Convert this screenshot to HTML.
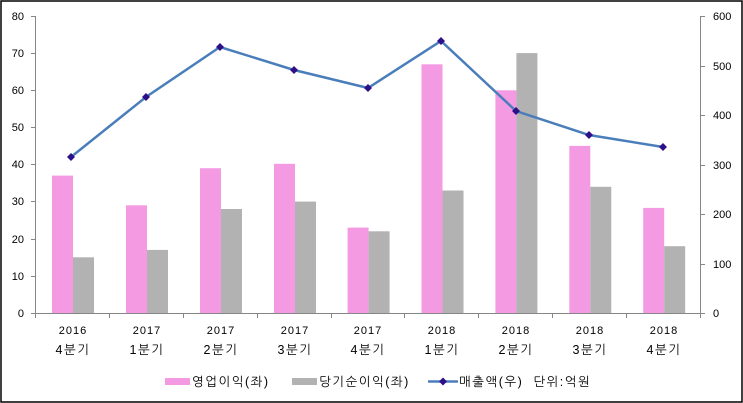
<!DOCTYPE html>
<html><head><meta charset="utf-8"><style>
body{margin:0;background:#fff}
svg{display:block}
text{font-family:"Liberation Sans","NanumGothic","Noto Sans CJK KR",sans-serif;font-size:11px;fill:#000}
.k{font-size:12.5px;letter-spacing:1.5px}
</style></head><body>
<svg width="743" height="403" viewBox="0 0 743 403" xmlns="http://www.w3.org/2000/svg">
<rect x="1" y="1" width="741" height="401" fill="#fff" stroke="#000" stroke-width="1.5"/>
<g fill="#f49ae3">
<rect x="52" y="175.6" width="21" height="137.4"/>
<rect x="126" y="205.3" width="21" height="107.7"/>
<rect x="200" y="168.2" width="21" height="144.8"/>
<rect x="274" y="163.8" width="21" height="149.2"/>
<rect x="347.6" y="227.6" width="21" height="85.4"/>
<rect x="421.5" y="64.3" width="21" height="248.7"/>
<rect x="495.4" y="90.3" width="21" height="222.7"/>
<rect x="569.3" y="145.9" width="21" height="167.1"/>
<rect x="643.2" y="207.9" width="21" height="105.1"/>
</g>
<g fill="#b2b2b2">
<rect x="73" y="257.3" width="21" height="55.7"/>
<rect x="147" y="249.9" width="21" height="63.1"/>
<rect x="221" y="209" width="21" height="104"/>
<rect x="295" y="201.6" width="21" height="111.4"/>
<rect x="368.6" y="231.3" width="21" height="81.7"/>
<rect x="442.5" y="190.5" width="21" height="122.5"/>
<rect x="516.4" y="53.1" width="21" height="259.9"/>
<rect x="590.3" y="186.8" width="21" height="126.2"/>
<rect x="664.2" y="246.2" width="21" height="66.8"/>
</g>
<g stroke="#868686" stroke-width="1" fill="none">
<path d="M35.5 16V313.5M31 16.5H35.5M31 53.5H35.5M31 90.5H35.5M31 127.5H35.5M31 164.5H35.5M31 201.5H35.5M31 239.5H35.5M31 276.5H35.5M31 313.5H35.5"/>
<path d="M700.5 16V313.5M700.5 16.5H705M700.5 66.5H705M700.5 115.5H705M700.5 165.5H705M700.5 214.5H705M700.5 264.5H705M700.5 313.5H705"/>
<path d="M35.5 313.5H700.5M35.5 313.5V318M109.5 313.5V318M183.5 313.5V318M257.5 313.5V318M331.5 313.5V318M404.5 313.5V318M478.5 313.5V318M552.5 313.5V318M626.5 313.5V318M700.5 313.5V318"/>
</g>
<g text-anchor="end">
<text x="24" y="20">80</text><text x="24" y="57">70</text><text x="24" y="94">60</text><text x="24" y="131">50</text><text x="24" y="168">40</text><text x="24" y="205">30</text><text x="24" y="243">20</text><text x="24" y="280">10</text><text x="24" y="317">0</text>
</g>
<g>
<text x="713" y="20">600</text><text x="713" y="70">500</text><text x="713" y="119">400</text><text x="713" y="169">300</text><text x="713" y="218">200</text><text x="713" y="268">100</text><text x="713" y="317">0</text>
</g>
<polyline points="71,157 146,97 220,47 294,70 368,88 441,41 516,111 589,135 663,147" fill="none" stroke="#4a7ebb" stroke-width="2.5"/>
<g fill="#2e0f8a">
<path d="M71 153l4 4-4 4-4-4z"/><path d="M146 93l4 4-4 4-4-4z"/><path d="M220 43l4 4-4 4-4-4z"/><path d="M294 66l4 4-4 4-4-4z"/><path d="M368 84l4 4-4 4-4-4z"/><path d="M441 37l4 4-4 4-4-4z"/><path d="M516 107l4 4-4 4-4-4z"/><path d="M589 131l4 4-4 4-4-4z"/><path d="M663 143l4 4-4 4-4-4z"/>
</g>
<g text-anchor="middle">
<text x="73" y="334" letter-spacing="1">2016</text><text class="k" x="73" y="354">4분기</text>
<text x="147" y="334" letter-spacing="1">2017</text><text class="k" x="147" y="354">1분기</text>
<text x="221" y="334" letter-spacing="1">2017</text><text class="k" x="221" y="354">2분기</text>
<text x="295" y="334" letter-spacing="1">2017</text><text class="k" x="295" y="354">3분기</text>
<text x="368" y="334" letter-spacing="1">2017</text><text class="k" x="368" y="354">4분기</text>
<text x="442" y="334" letter-spacing="1">2018</text><text class="k" x="442" y="354">1분기</text>
<text x="516" y="334" letter-spacing="1">2018</text><text class="k" x="516" y="354">2분기</text>
<text x="590" y="334" letter-spacing="1">2018</text><text class="k" x="590" y="354">3분기</text>
<text x="664" y="334" letter-spacing="1">2018</text><text class="k" x="664" y="354">4분기</text>
</g>
<rect x="165" y="378" width="25" height="7" fill="#f49ae3"/>
<text class="k" x="192" y="386" letter-spacing="1">영업이익(좌)</text>
<rect x="292" y="378" width="25" height="7" fill="#b2b2b2"/>
<text class="k" x="319" y="386" letter-spacing="1">당기순이익(좌)</text>
<line x1="428" y1="381.5" x2="458" y2="381.5" stroke="#4a7ebb" stroke-width="2.5"/>
<path d="M443 377.5l4 4-4 4-4-4z" fill="#2e0f8a"/>
<text class="k" x="459" y="386" letter-spacing="1" xml:space="preserve">매출액(우)  단위:억원</text>
</svg>
</body></html>
